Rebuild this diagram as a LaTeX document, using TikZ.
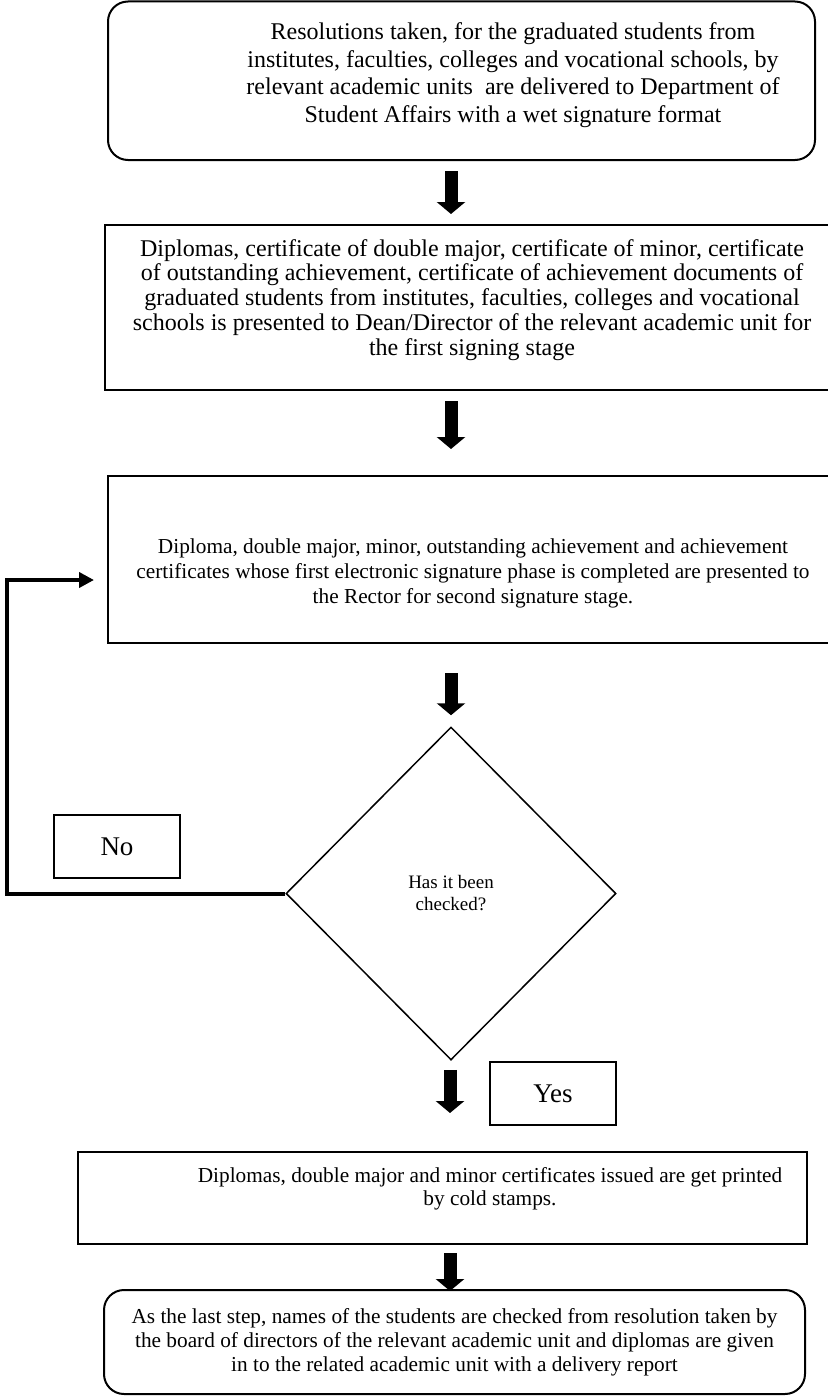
\documentclass[tikz,border=0pt]{standalone}
\usepackage{fontspec}
\setmainfont{Liberation Serif}
\usetikzlibrary{arrows.meta,calc,shapes.geometric}

\begin{document}
\begin{tikzpicture}[x=1pt, y=-1pt, >={Triangle[width=28pt,length=12pt]},
    box/.style={draw, line width=2pt, inner sep=0pt},
    roundbox/.style={box, rounded corners=20pt},
    txt/.style={align=center, inner sep=0pt, anchor=base},
    fat/.style={->, line width=13pt},
    back/.style={line width=4pt, -{Triangle[width=15pt,length=15pt]}}]
          \useasboundingbox (0,0) rectangle (827,1397);
          % boxes
          \node[roundbox, minimum width=707, minimum height=158.5] (b1) at (461.5,80.75) {};
          \node[box, minimum width=725, minimum height=165] (b2) at (467.5,307.5) {};
          \node[box, minimum width=722, minimum height=167] (b3) at (469,559.5) {};
          \node[diamond, draw, line width=1.5pt, inner sep=0pt, minimum width=330, minimum height=333,
                align=center, font=\fontsize{19}{22}\selectfont] (chk) at (451,893.5) {Has it been\\ checked?};
          \node[box, minimum width=126, minimum height=63, font=\fontsize{27}{30}\selectfont] (no) at (117,846.5) {No};
          \node[box, minimum width=126, minimum height=63, font=\fontsize{27}{30}\selectfont] (yes) at (553,1093.5) {Yes};
          \node[box, minimum width=729, minimum height=92] (b5) at (442.5,1198) {};
          \node[roundbox, minimum width=701, minimum height=104, align=center,
                font=\fontsize{21.3}{24}\selectfont] (b6) at (454.5,1342) {As the last step, names of the students are checked from resolution taken by\\ the board of directors of the relevant academic unit and diplomas are given\\ in to the related academic unit with a delivery report};
          % texts (placed at the baseline of their last line)
          \node[txt, font=\fontsize{24}{27.5}\selectfont] (t1) at (513,122) {Resolutions taken, for the graduated students from\\ institutes, faculties, colleges and vocational schools, by\\ relevant academic units\ \ are delivered to Department of\\ Student Affairs with a wet signature format};
          \node[txt, font=\fontsize{24}{24.7}\selectfont] (t2) at (472,355) {Diplomas, certificate of double major, certificate of minor, certificate\\ of outstanding achievement, certificate of achievement documents of\\ graduated students from institutes, faculties, colleges and vocational\\ schools is presented to Dean/Director of the relevant academic unit for\\ the first signing stage};
          \node[txt, font=\fontsize{21.3}{25}\selectfont] (t3) at (473,603) {Diploma, double major, minor, outstanding achievement and achievement\\ certificates whose first electronic signature phase is completed are presented to\\ the Rector for second signature stage.};
          \node[txt, font=\fontsize{21.3}{23}\selectfont] (t5) at (490,1205) {Diplomas, double major and minor certificates issued are get printed\\ by cold stamps.};
          % arrows
          \draw[fat] ($(b1.south -| chk)+(0,10)$) -- ($(b2.north -| chk)+(0,-10)$);
          \draw[fat] ($(b2.south -| chk)+(0,10)$) -- ($(b3.north -| chk)+(0,-26)$);
          \draw[fat] ($(b3.south -| chk)+(0,29)$) -- ($(chk.north)+(0,-11)$);
          \draw[fat] ($(chk.south)+(-1,9)$) -- ($(b5.north -| chk)+(-1,-38)$);
          \draw[fat] ($(b5.south -| chk)+(-1,8)$) -- ($(b6.north -| chk)+(-1,2)$);
          % loop back
          \coordinate (corner) at (7,893.5);
          \coordinate (goback) at (94,580);
          \draw[back] (chk.west) -- (corner) |- (goback);
      \end{tikzpicture}
\end{document}
